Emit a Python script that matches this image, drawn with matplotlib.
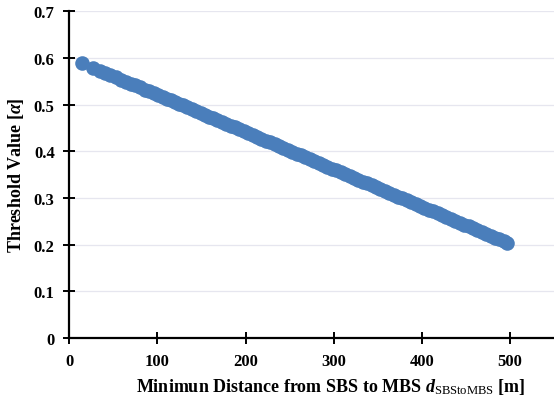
import matplotlib
matplotlib.use("Agg")
import matplotlib.pyplot as plt

plt.rcParams['font.family'] = ['Liberation Serif', 'DejaVu Serif']
plt.rcParams['font.weight'] = 'bold'
plt.rcParams['mathtext.fontset'] = 'custom'
plt.rcParams['mathtext.rm'] = 'Liberation Serif:weight=normal'
plt.rcParams['mathtext.it'] = 'Liberation Serif:italic:bold'
plt.rcParams['mathtext.bf'] = 'Liberation Serif:bold'

distance = [14, 27, 35, 41, 46, 53, 59, 64, 70, 75, 80, 86, 91, 96, 101, 106, 111, 115,
            120, 125, 129, 134, 139, 144, 149, 154, 159, 163, 168, 173, 178, 183, 188,
            193, 198, 203, 208, 213, 218, 223, 228, 233, 238, 243, 248, 253, 258, 263,
            268, 273, 278, 283, 288, 293, 298, 303, 308, 313, 318, 323, 328, 333, 338,
            343, 348, 353, 358, 363, 368, 373, 378, 383, 388, 393, 398, 403, 408, 413,
            418, 423, 428, 433, 438, 443, 448, 453, 458, 463, 468, 473, 478, 483, 488,
            493, 497]
threshold = [0.589, 0.579, 0.572, 0.568, 0.564, 0.558, 0.553, 0.549, 0.545, 0.541, 0.537,
             0.532, 0.528, 0.524, 0.520, 0.516, 0.512, 0.509, 0.505, 0.501, 0.498, 0.494,
             0.490, 0.486, 0.482, 0.478, 0.474, 0.471, 0.467, 0.463, 0.459, 0.455, 0.451,
             0.447, 0.443, 0.439, 0.435, 0.431, 0.427, 0.423, 0.419, 0.415, 0.411, 0.407,
             0.403, 0.399, 0.395, 0.391, 0.387, 0.383, 0.379, 0.375, 0.371, 0.367, 0.363,
             0.359, 0.355, 0.351, 0.347, 0.343, 0.339, 0.335, 0.331, 0.327, 0.323, 0.319,
             0.315, 0.311, 0.307, 0.303, 0.299, 0.295, 0.291, 0.287, 0.283, 0.279, 0.275,
             0.271, 0.267, 0.263, 0.259, 0.255, 0.251, 0.247, 0.243, 0.239, 0.235, 0.231,
             0.227, 0.223, 0.219, 0.215, 0.211, 0.207, 0.204]

xticks = [0, 100, 200, 300, 400, 500]
yticks = [0, 0.1, 0.2, 0.3, 0.4, 0.5, 0.6, 0.7]
yticklabels = ['0', '0.1', '0.2', '0.3', '0.4', '0.5', '0.6', '0.7']

fig = plt.figure(figsize=(5.54, 4.06), dpi=100)
ax = fig.add_axes([0.125, 0.165, 0.875, 0.805])

ax.scatter(distance, threshold, s=110, color='#4a7ebb', zorder=3, linewidths=0)

ax.set_xlim(0, 550)
ax.set_ylim(0, 0.7)
ax.set_xticks(xticks)
ax.set_yticks(yticks)
ax.set_yticklabels(yticklabels)
ax.grid(axis='y', color='#e6e6ef', linewidth=0.9, zorder=0)
for s in ['top', 'right']:
    ax.spines[s].set_visible(False)
for s in ['left', 'bottom']:
    ax.spines[s].set_linewidth(1.6)
    ax.spines[s].set_color('black')
ax.tick_params(direction='inout', length=9, width=1.4, labelsize=12, pad=6)
for lab in ax.get_xticklabels() + ax.get_yticklabels():
    lab.set_fontweight('bold')

ax.set_ylabel(r'Threshold Value [$\alpha$]', fontsize=13, fontweight='bold')
ax.set_xlabel(r'Minimun Distance from SBS to MBS $d_{\mathrm{SBStoMBS}}$ [m]',
              fontsize=13, fontweight='bold')
ax.xaxis.set_label_coords(0.54, -0.115)
ax.yaxis.set_label_coords(-0.09, 0.5)

fig.savefig('out.png', dpi=100)
